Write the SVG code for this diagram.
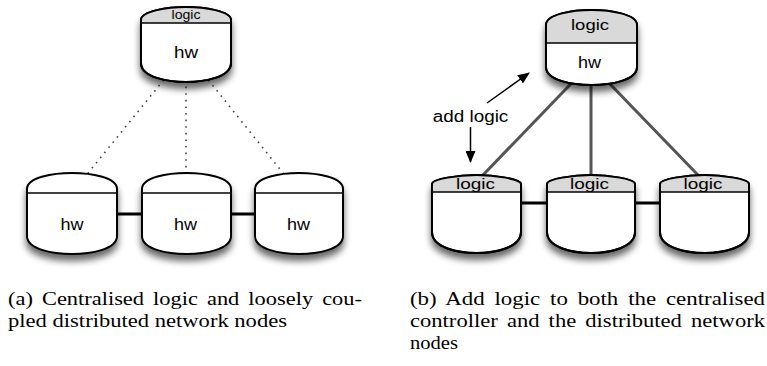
<svg xmlns="http://www.w3.org/2000/svg" width="767" height="366" viewBox="0 0 767 366">
<style>
.shape{fill:#fff;stroke:#000;stroke-width:2;filter:url(#sh)}
.logicfill{fill:#d9d9d9;stroke:none}
.div{stroke:#000;stroke-width:1.5;fill:none}
.outline{fill:none;stroke:#000;stroke-width:2}
.lbl{font-family:"Liberation Sans",Arial,sans-serif;fill:#000;text-anchor:middle}
.cap{font-family:"Liberation Serif","Times New Roman",serif;font-size:19.5px;fill:#000}
.dot{stroke:#444;stroke-width:1.6;stroke-dasharray:1.6 5;fill:none}
.link{stroke:#000;stroke-width:3;fill:none}
.glink{stroke:#555;stroke-width:3;fill:none}
.arrow{stroke:#000;stroke-width:1.5;fill:none;marker-end:url(#ah)}
</style>
<defs>
<filter id="sh" x="-20%" y="-20%" width="140%" height="170%">
<feGaussianBlur in="SourceAlpha" stdDeviation="3.5"/>
<feOffset dy="6" result="o"/>
<feComponentTransfer><feFuncA type="linear" slope="0.6"/></feComponentTransfer>
<feMerge><feMergeNode/><feMergeNode in="SourceGraphic"/></feMerge>
</filter>
<marker id="ah" markerWidth="12" markerHeight="10" refX="11" refY="5" orient="auto" markerUnits="userSpaceOnUse">
<path d="M0,0 L12,5 L0,10 Z" fill="#000"/>
</marker>
</defs>
<rect width="767" height="366" fill="#fff"/>

<g id="connectors">
<path class="dot" d="M163.7,80 L85.6,176"/>
<path class="dot" d="M186,80 L186,176"/>
<path class="dot" d="M208.4,80 L285.4,176"/>
<path class="link" d="M117,214 H142 M231,214 H255"/>
<path class="glink" d="M579.4,75 L481.1,177"/>
<path class="glink" d="M591,75 L591,177"/>
<path class="glink" d="M601.3,75 L699.9,177"/>
<path class="link" d="M521,203 H547 M635,203 H660"/>
<path class="arrow" d="M487,103 L529,73"/>
<path class="arrow" d="M470.5,127 L470.5,162"/>
</g>

<g id="a-top">
<path class="shape" d="M141,20 C141,11 168,7 186,7 C204,7 231,11 231,20 L231,63 C231,77.4 204,82 186,82 C168,82 141,77.4 141,63 Z"/>
<path class="logicfill" d="M141,23 L141,20 C141,11 168,7 186,7 C204,7 231,11 231,20 L231,23 Z"/>
<path class="div" d="M141,23 H231"/>
<path class="outline" d="M141,20 C141,11 168,7 186,7 C204,7 231,11 231,20 L231,63 C231,77.4 204,82 186,82 C168,82 141,77.4 141,63 Z"/>
<text class="lbl" x="186" y="18.5" font-size="12.5" textLength="29" lengthAdjust="spacingAndGlyphs">logic</text>
<text class="lbl" x="186" y="58" font-size="16" textLength="24" lengthAdjust="spacingAndGlyphs">hw</text>
</g>

<g id="a-n1">
<path class="shape" d="M27,189 C27,177 54,173 72,173 C90,173 117,177 117,189 L117,236 C117,249.7 90,254 72,254 C54,254 27,249.7 27,236 Z"/>
<path class="div" d="M27,193 H117"/>
<text class="lbl" x="72" y="230" font-size="16" textLength="23" lengthAdjust="spacingAndGlyphs">hw</text>
</g>
<g id="a-n2">
<path class="shape" d="M142,189 C142,177 168.7,173 186.5,173 C204.3,173 231,177 231,189 L231,236 C231,249.7 204.3,254 186.5,254 C168.7,254 142,249.7 142,236 Z"/>
<path class="div" d="M142,193 H231"/>
<text class="lbl" x="185.5" y="230" font-size="16" textLength="23" lengthAdjust="spacingAndGlyphs">hw</text>
</g>
<g id="a-n3">
<path class="shape" d="M255,189 C255,177 281.4,173 299,173 C316.6,173 343,177 343,189 L343,236 C343,249.7 316.6,254 299,254 C281.4,254 255,249.7 255,236 Z"/>
<path class="div" d="M255,193 H343"/>
<text class="lbl" x="298.5" y="230" font-size="16" textLength="23" lengthAdjust="spacingAndGlyphs">hw</text>
</g>

<g id="b-top">
<path class="shape" d="M546,25 C546,14 573.3,10 591.5,10 C609.7,10 637,14 637,25 L637,67 C637,80.7 609.7,85 591.5,85 C573.3,85 546,80.7 546,67 Z"/>
<path class="logicfill" d="M546,43 L546,25 C546,14 573.3,10 591.5,10 C609.7,10 637,14 637,25 L637,43 Z"/>
<path class="div" d="M546,43 H637"/>
<path class="outline" d="M546,25 C546,14 573.3,10 591.5,10 C609.7,10 637,14 637,25 L637,67 C637,80.7 609.7,85 591.5,85 C573.3,85 546,80.7 546,67 Z"/>
<text class="lbl" x="590" y="29.5" font-size="15.5" textLength="38" lengthAdjust="spacingAndGlyphs">logic</text>
<text class="lbl" x="589.5" y="68" font-size="16" textLength="23" lengthAdjust="spacingAndGlyphs">hw</text>
</g>

<g id="b-n1">
<path class="shape" d="M432,184 C432,179 458.7,175 476.5,175 C494.3,175 521,179 521,184 L521,232 C521,248 494.3,253 476.5,253 C458.7,253 432,248 432,232 Z"/>
<path class="logicfill" d="M432,192 L432,184 C432,179 458.7,175 476.5,175 C494.3,175 521,179 521,184 L521,192 Z"/>
<path class="div" d="M432,192 H521"/>
<path class="outline" d="M432,184 C432,179 458.7,175 476.5,175 C494.3,175 521,179 521,184 L521,232 C521,248 494.3,253 476.5,253 C458.7,253 432,248 432,232 Z"/>
<text class="lbl" x="475.5" y="188.5" font-size="15.5" textLength="39" lengthAdjust="spacingAndGlyphs">logic</text>
</g>
<g id="b-n2">
<path class="shape" d="M547,184 C547,179 573.4,175 591,175 C608.6,175 635,179 635,184 L635,232 C635,248 608.6,253 591,253 C573.4,253 547,248 547,232 Z"/>
<path class="logicfill" d="M547,192 L547,184 C547,179 573.4,175 591,175 C608.6,175 635,179 635,184 L635,192 Z"/>
<path class="div" d="M547,192 H635"/>
<path class="outline" d="M547,184 C547,179 573.4,175 591,175 C608.6,175 635,179 635,184 L635,232 C635,248 608.6,253 591,253 C573.4,253 547,248 547,232 Z"/>
<text class="lbl" x="589.5" y="188.5" font-size="15.5" textLength="39" lengthAdjust="spacingAndGlyphs">logic</text>
</g>
<g id="b-n3">
<path class="shape" d="M660,184 C660,179 686.7,175 704.5,175 C722.3,175 749,179 749,184 L749,232 C749,248 722.3,253 704.5,253 C686.7,253 660,248 660,232 Z"/>
<path class="logicfill" d="M660,192 L660,184 C660,179 686.7,175 704.5,175 C722.3,175 749,179 749,184 L749,192 Z"/>
<path class="div" d="M660,192 H749"/>
<path class="outline" d="M660,184 C660,179 686.7,175 704.5,175 C722.3,175 749,179 749,184 L749,232 C749,248 722.3,253 704.5,253 C686.7,253 660,248 660,232 Z"/>
<text class="lbl" x="703" y="188.5" font-size="15.5" textLength="39" lengthAdjust="spacingAndGlyphs">logic</text>
</g>

<g id="add-logic">
<text class="lbl" x="470.5" y="121.5" font-size="16" textLength="75.5" lengthAdjust="spacingAndGlyphs">add logic</text>
</g>

<g id="captions">
<text class="cap" x="8" y="305" word-spacing="3" textLength="354" lengthAdjust="spacingAndGlyphs">(a) Centralised logic and loosely cou-</text>
<text class="cap" x="8" y="327" textLength="279" lengthAdjust="spacingAndGlyphs">pled distributed network nodes</text>
<text class="cap" x="410" y="305" word-spacing="3.5" textLength="355" lengthAdjust="spacingAndGlyphs">(b) Add logic to both the centralised</text>
<text class="cap" x="410" y="327" word-spacing="3" textLength="355" lengthAdjust="spacingAndGlyphs">controller and the distributed network</text>
<text class="cap" x="410" y="349" textLength="48" lengthAdjust="spacingAndGlyphs">nodes</text>
</g>
</svg>
